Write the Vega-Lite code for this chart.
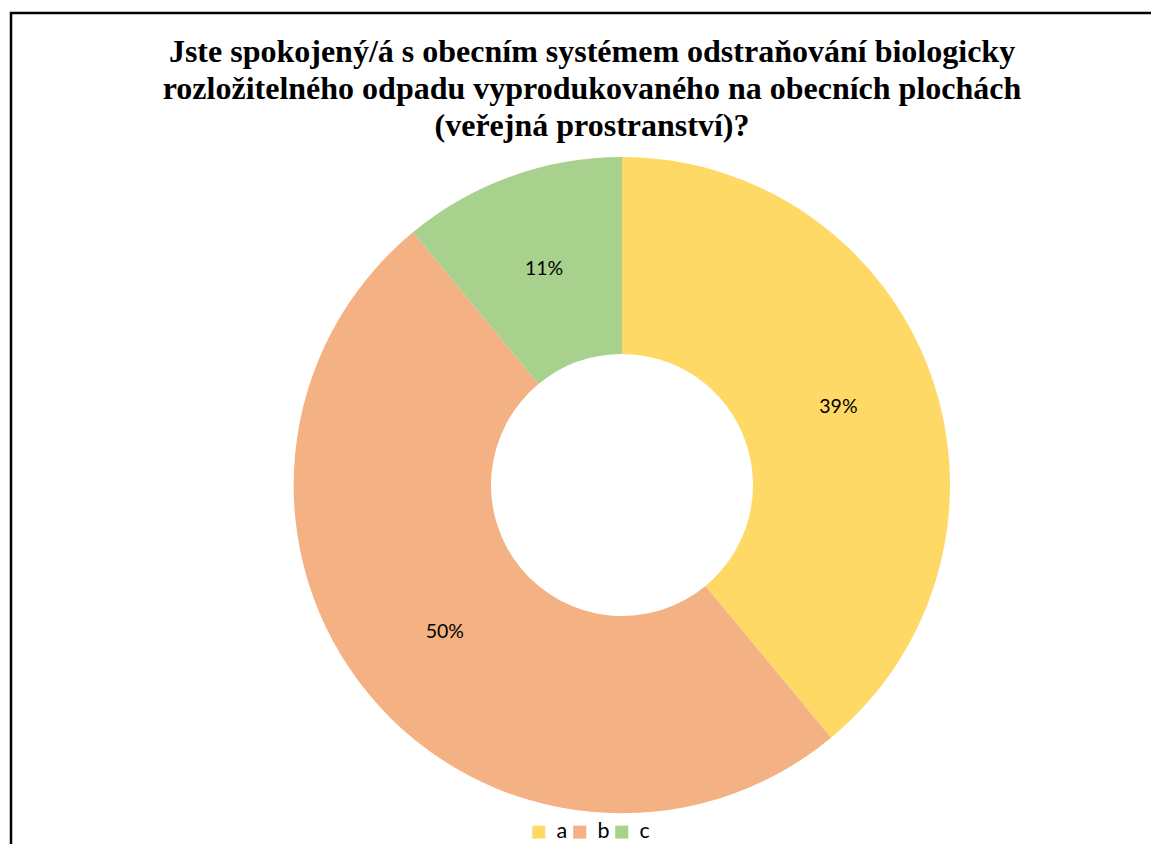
{
  "$schema": "https://vega.github.io/schema/vega-lite/v6.json",
  "autosize": {"type": "none"},
  "width": 1222,
  "height": 944,
  "padding": {"left": 11, "top": 13, "right": -82, "bottom": -113},
  "background": "white",
  "view": {"stroke": "black", "strokeWidth": 2.5, "fill": "white"},
  "title": {
    "text": ["Jste spokojený/á s obecním systémem odstraňování biologicky", "rozložitelného odpadu vyprodukovaného na obecních plochách", "(veřejná prostranství)?"],
    "font": "Liberation Serif",
    "fontSize": 32,
    "fontWeight": "bold",
    "lineHeight": 37,
    "color": "black",
    "anchor": "middle",
    "frame": "group",
    "orient": "top",
    "dx": -30,
    "offset": -130
  },
  "data": {
    "values": [
      {"answer": "a", "percent": 39, "label": "39%"},
      {"answer": "b", "percent": 50, "label": "50%"},
      {"answer": "c", "percent": 11, "label": "11%"}
    ]
  },
  "encoding": {
    "theta": {"field": "percent", "type": "quantitative", "stack": true},
    "order": {"field": "answer", "type": "nominal"}
  },
  "layer": [
    {
      "mark": {"type": "arc", "outerRadius": 328, "innerRadius": 131},
      "encoding": {
        "color": {
          "field": "answer",
          "type": "nominal",
          "scale": {"domain": ["a", "b", "c"], "range": ["#FFD966", "#F4B183", "#A9D18E"]},
          "legend": {
            "title": null,
            "orient": "none",
            "direction": "horizontal",
            "legendX": 517,
            "legendY": 808,
            "symbolType": "square",
            "symbolSize": 169,
            "symbolStrokeWidth": 0,
            "labelFont": "Lato",
            "labelFontSize": 21.5,
            "labelColor": "black",
            "labelOffset": 7,
            "columnPadding": 1,
            "padding": 0
          }
        }
      }
    },
    {
      "mark": {"type": "text", "radius": 230, "font": "Lato", "fontSize": 19.5, "color": "black"},
      "encoding": {"text": {"field": "label"}}
    }
  ],
  "config": {
    "view": {"stroke": "black", "strokeWidth": 2.5}
  }
}
